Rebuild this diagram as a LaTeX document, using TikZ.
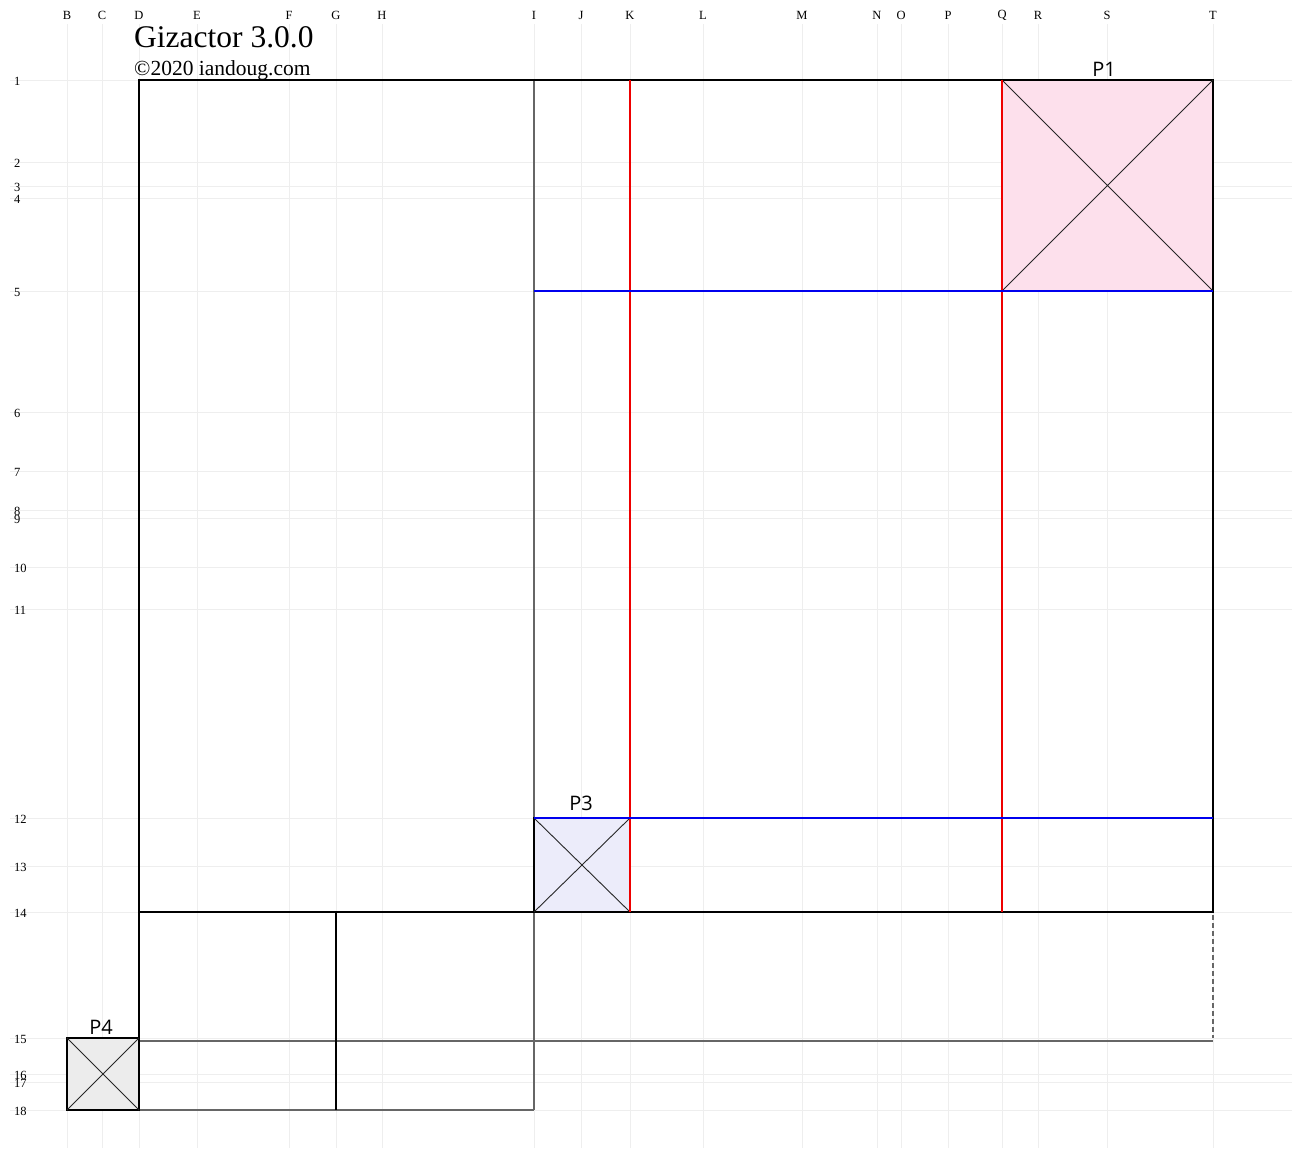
\documentclass[tikz,border=0pt]{standalone}
\usepackage{fontspec}
\setmainfont{Liberation Serif}
\newfontfamily\plabelfont{Open Sans}
\definecolor{gridc}{HTML}{EEEEEE}
\definecolor{pinkfill}{HTML}{FDE0EC}
\definecolor{lavfill}{HTML}{ECECFA}
\definecolor{grayfill}{HTML}{ECECEC}
\definecolor{greyline}{HTML}{666666}
\definecolor{redline}{HTML}{EE0000}
\definecolor{blueline}{HTML}{0000EE}
\begin{document}
\begin{tikzpicture}[x=1pt,y=-1pt,
  gridline/.style={draw=gridc,line width=1pt},
  axlab/.style={font=\fontsize{12.5}{12.5}\selectfont,inner sep=0pt},
  wall/.style={draw=black,line width=1.2pt},
  greywall/.style={draw=greyline,line width=1.2pt},
  redwall/.style={draw=redline,line width=2.7pt},
  bluewall/.style={draw=blueline,line width=2.7pt},
  cross/.style={draw=black!85,line width=0.9pt},
  plab/.style={font=\plabelfont\fontsize{20}{20}\selectfont,inner sep=0pt,anchor=base}]
\useasboundingbox (0,0) rectangle (1292,1148);
% column grid
\foreach \n/\x in {B/67,C/102,D/139,E/197,F/289,G/336,H/382,I/534,J/581,K/630,L/703,M/802,N/877,O/901,P/948,Q/1002,R/1038,S/1107,T/1213}{
  \coordinate (X\n) at (\x,0);
  \draw[gridline] (\x,24) -- (\x,1148);
  \node[axlab] (cl\n) at (\x,15) {\n};
}
% row grid
\foreach \n/\y in {1/80,2/162,3/186,4/198,5/291,6/412,7/471,8/510,9/518,10/567,11/609,12/818,13/866,14/912,15/1038,16/1074,17/1082,18/1110}{
  \coordinate (Y\n) at (0,\y);
  \draw[gridline] (10,\y) -- (1292,\y);
  \node[axlab,anchor=west] (rl\n) at (14,\y+1) {\n};
}
% title
\node[anchor=base west,inner sep=0pt,font=\fontsize{31.5}{31.5}\selectfont] (title) at (134,48) {Gizactor 3.0.0};
\node[anchor=base west,inner sep=0pt,font=\fontsize{21.5}{21.5}\selectfont] (copy) at (134,75) {©2020 iandoug.com};
% fills
\fill[pinkfill] (XQ|-Y1) rectangle (XT|-Y5);
\fill[lavfill] (XI|-Y12) rectangle (XK|-Y14);
\fill[grayfill] (XB|-Y15) rectangle (XD|-Y18);
% grey structure
\draw[greywall] (XI|-Y1) -- (XI|-Y18);
\draw[greywall] (139,1041) -- (1213,1041);
\draw[greywall] (XD|-Y18) -- (XI|-Y18);
\draw[draw=greyline,line width=1.2pt,dash pattern=on 5pt off 3pt] (XT|-Y5) -- (XT|-Y15);
% black structure
\draw[wall] (XD|-Y18) -- (XD|-Y1) -- (XT|-Y1) -- (XT|-Y14) -- (XD|-Y14);
\draw[wall] (XG|-Y14) -- (XG|-Y18);
% P boxes
\draw[wall] (XQ|-Y1) rectangle (XT|-Y5);
\draw[cross] (XQ|-Y1) -- (XT|-Y5) (XQ|-Y5) -- (XT|-Y1);
\draw[wall] (XI|-Y12) rectangle (XK|-Y14);
\draw[cross] (XI|-Y12) -- (XK|-Y14) (XI|-Y14) -- (XK|-Y12);
\draw[wall] (XB|-Y15) rectangle (XD|-Y18);
\draw[cross] (XB|-Y15) -- (XD|-Y18) (XB|-Y18) -- (XD|-Y15);
% coloured walls
\draw[redwall] (XK|-Y1) -- (XK|-Y14);
\draw[redwall] (XQ|-Y1) -- (XQ|-Y14);
\draw[bluewall] (XI|-Y5) -- (XT|-Y5);
\draw[bluewall] (XI|-Y12) -- (XT|-Y12);
% labels
\node[plab] (p1) at (1104,76) {P1};
\node[plab] (p3) at (581,810) {P3};
\node[plab] (p4) at (101,1034) {P4};
\end{tikzpicture}
\end{document}
